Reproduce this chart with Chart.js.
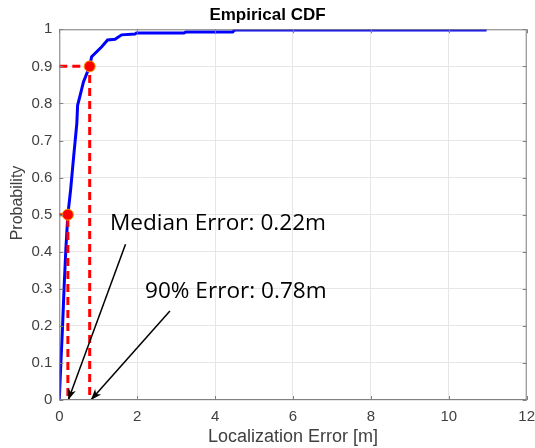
<!DOCTYPE html>
<html>
<head>
<meta charset="utf-8">
<script src="https://cdn.jsdelivr.net/npm/chart.js@4.4.1/dist/chart.umd.min.js"></script>
<style>
  html, body { margin: 0; padding: 0; background: #fff; }
  #wrap { width: 535px; height: 448px; }
</style>
</head>
<body>
<div id="wrap"><canvas id="chart"></canvas></div>
<script>
// empirical CDF
var errX = [0, 0.04, 0.08, 0.13, 0.17, 0.22, 0.29, 0.36, 0.45, 0.47, 0.53, 0.62, 0.78, 0.83, 1.09, 1.24, 1.43, 1.6, 1.94, 1.98, 3.2, 3.25, 4.45, 4.5, 10.97];
var cdfY = [0, 0.1, 0.19, 0.32, 0.41, 0.5, 0.566, 0.647, 0.746, 0.795, 0.82, 0.858, 0.9, 0.926, 0.953, 0.971, 0.973, 0.985, 0.987, 0.99, 0.99, 0.993, 0.993, 0.998, 0.998];

var medianErr = 0.22, medianP = 0.5;
var p90Err = 0.78, p90P = 0.9;

// arrows: [from, to] in data units
var arrowMedian = [{x: 1.70, y: 0.42}, {x: 0.23, y: 0}];
var arrow90 = [{x: 2.84, y: 0.24}, {x: 0.81, y: 0}];

var notes = [
  {text: 'Median Error: 0.22m', x: 1.30, y: 0.477},
  {text: '90% Error: 0.78m', x: 2.20, y: 0.292}
];

var xTicks = [0, 2, 4, 6, 8, 10, 12];
var yTicks = [0, 0.1, 0.2, 0.3, 0.4, 0.5, 0.6, 0.7, 0.8, 0.9, 1];

var cdfPts = [];
for (var i = 0; i < errX.length; i++) {
  cdfPts.push({x: errX[i], y: cdfY[i]});
}

var labelColor = '#404040';

// box round the axes with inward ticks, the arrow heads, the notes and y title
var extras = {
  id: 'extras',
  afterDatasetsDraw: function(chart) {
    var ctx = chart.ctx, a = chart.chartArea;
    var xs = chart.scales.x, ys = chart.scales.y;
    ctx.save();

    // arrow heads
    [arrowMedian, arrow90].forEach(function(arr) {
      var x0 = xs.getPixelForValue(arr[0].x), y0 = ys.getPixelForValue(arr[0].y);
      var x1 = xs.getPixelForValue(arr[1].x), y1 = ys.getPixelForValue(arr[1].y);
      var ang = Math.atan2(y1 - y0, x1 - x0);
      ctx.save();
      ctx.translate(x1, y1);
      ctx.rotate(ang);
      ctx.fillStyle = '#000';
      ctx.beginPath();
      ctx.moveTo(0, 0);
      ctx.lineTo(-11, -4);
      ctx.lineTo(-8, 0);
      ctx.lineTo(-11, 4);
      ctx.closePath();
      ctx.fill();
      ctx.restore();
    });

    // box
    ctx.strokeStyle = '#808080';
    ctx.lineWidth = 1;
    ctx.strokeRect(a.left + 0.5, a.top + 0.5, a.right - a.left - 1, a.bottom - a.top - 1);

    // inward ticks
    ctx.beginPath();
    xTicks.forEach(function(v) {
      var px = Math.round(xs.getPixelForValue(v)) + 0.5;
      ctx.moveTo(px, a.bottom); ctx.lineTo(px, a.bottom - 4);
      ctx.moveTo(px, a.top); ctx.lineTo(px, a.top + 4);
    });
    yTicks.forEach(function(v) {
      var py = Math.round(ys.getPixelForValue(v)) + 0.5;
      ctx.moveTo(a.left, py); ctx.lineTo(a.left + 4, py);
      ctx.moveTo(a.right, py); ctx.lineTo(a.right - 4, py);
    });
    ctx.stroke();

    // notes
    ctx.fillStyle = '#000';
    ctx.font = '22.6px "Open Sans"';
    ctx.textAlign = 'left';
    ctx.textBaseline = 'middle';
    notes.forEach(function(n) {
      ctx.fillText(n.text, xs.getPixelForValue(n.x), ys.getPixelForValue(n.y));
    });

    // y axis title
    ctx.translate(18, 203);
    ctx.rotate(-Math.PI / 2);
    ctx.fillStyle = labelColor;
    ctx.font = '16px "Liberation Sans"';
    ctx.textAlign = 'center';
    ctx.textBaseline = 'middle';
    ctx.fillText('Probability', 0, 0);

    ctx.restore();
  }
};

var config = {
  type: 'scatter',
  data: {
    datasets: [
      {
        label: 'markers',
        data: [{x: medianErr, y: medianP}, {x: p90Err, y: p90P}],
        showLine: false,
        pointRadius: 5.5,
        pointBackgroundColor: '#ff0000',
        pointBorderColor: '#ff9900',
        pointBorderWidth: 1,
        order: 0
      },
      {
        label: 'arrow median',
        data: arrowMedian,
        showLine: true,
        borderColor: '#000',
        borderWidth: 1.5,
        pointRadius: 0,
        order: 1
      },
      {
        label: 'arrow 90',
        data: arrow90,
        showLine: true,
        borderColor: '#000',
        borderWidth: 1.5,
        pointRadius: 0,
        order: 1
      },
      {
        label: 'median guide',
        data: [{x: 0, y: medianP}, {x: medianErr, y: medianP}, {x: medianErr, y: 0}],
        showLine: true,
        borderColor: '#ff0000',
        borderWidth: 3,
        borderDash: [8, 5],
        pointRadius: 0,
        order: 2
      },
      {
        label: '90 guide',
        data: [{x: 0, y: p90P}, {x: p90Err, y: p90P}, {x: p90Err, y: 0}],
        showLine: true,
        borderColor: '#ff0000',
        borderWidth: 3,
        borderDash: [8, 5],
        pointRadius: 0,
        order: 2
      },
      {
        label: 'CDF',
        data: cdfPts,
        showLine: true,
        borderColor: '#0000ff',
        borderWidth: 3,
        pointRadius: 0,
        tension: 0,
        order: 3
      }
    ]
  },
  options: {
    responsive: true,
    maintainAspectRatio: false,
    animation: false,
    layout: { padding: { left: 0, right: 0, top: 0, bottom: 0 } },
    plugins: {
      legend: { display: false },
      tooltip: { enabled: false },
      title: {
        display: true,
        text: 'Empirical CDF',
        color: '#000',
        font: { family: 'Liberation Sans', size: 17, weight: 'bold', lineHeight: 1.2 },
        padding: { top: 5, bottom: 3.9 }
      }
    },
    scales: {
      x: {
        type: 'linear',
        min: 0,
        max: 12,
        afterBuildTicks: function(s) { s.ticks = xTicks.map(function(v) { return {value: v}; }); },
        afterFit: function(s) {
          s.height = 48;
          s.paddingLeft = 0;
          s.paddingRight = 8.3;
        },
        ticks: {
          color: labelColor,
          font: { family: 'Liberation Sans', size: 15 },
          padding: 8,
          maxRotation: 0
        },
        grid: { color: '#e6e6e6', drawTicks: false },
        border: { display: false },
        title: {
          display: true,
          text: 'Localization Error [m]',
          color: labelColor,
          font: { family: 'Liberation Sans', size: 18 },
          padding: { top: 0, bottom: 0 }
        }
      },
      y: {
        type: 'linear',
        min: 0,
        max: 1,
        afterBuildTicks: function(s) { s.ticks = yTicks.map(function(v) { return {value: v}; }); },
        afterFit: function(s) {
          s.width = 59.3;
          s.paddingTop = 0;
          s.paddingBottom = 0;
        },
        ticks: {
          color: labelColor,
          font: { family: 'Liberation Sans', size: 15 },
          padding: 7,
          callback: function(v) { return String(Math.round(v * 10) / 10); }
        },
        grid: { color: '#e6e6e6', drawTicks: false },
        border: { display: false }
      }
    }
  },
  plugins: [extras]
};

var myChart = new Chart(document.getElementById('chart'), config);
</script>
</body>
</html>
